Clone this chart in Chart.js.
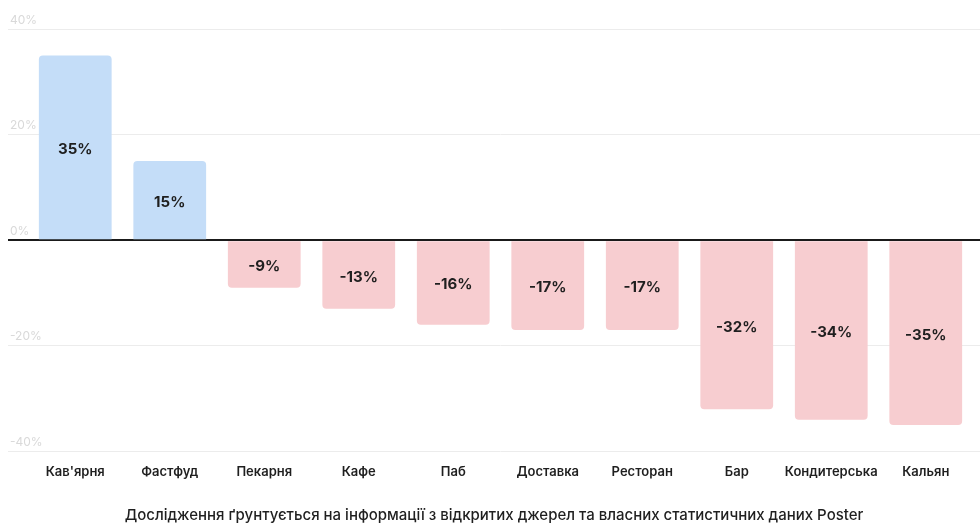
<!DOCTYPE html>
<html>
<head>
<meta charset="utf-8">
<script src="https://cdn.jsdelivr.net/npm/chart.js@4"></script>
<style>
  html, body { margin: 0; padding: 0; background: #fff; }
  #wrap { width: 980px; height: 524px; position: relative; }
</style>
</head>
<body>
<div id="wrap"><canvas id="c" width="980" height="524"></canvas></div>
<script>
const categories = ["Кав'ярня", "Фастфуд", "Пекарня", "Кафе", "Паб", "Доставка", "Ресторан", "Бар", "Кондитерська", "Кальян"];
const values = [35, 15, -9, -13, -16, -17, -17, -32, -34, -35];
const yTicks = [-40, -20, 0, 20, 40];
const footerText = "Дослідження ґрунтується на інформації з відкритих джерел та власних статистичних даних Poster";

const FONT = "Inter, 'Noto Sans', sans-serif";
const POS = '#c4ddf8';
const NEG = '#f7cdd0';

const gridColor = ctx => (ctx.tick && ctx.tick.value === 0) ? '#1a1a1a' : '#ececec';
const gridWidth = ctx => (ctx.tick && ctx.tick.value === 0) ? 2 : 1;

const valueLabels = {
  id: 'valueLabels',
  afterDatasetsDraw(chart) {
    const ctx = chart.ctx;
    const meta = chart.getDatasetMeta(0);
    ctx.save();
    ctx.font = "700 15px " + FONT;
    ctx.fillStyle = '#1f1f1f';
    ctx.textAlign = 'center';
    ctx.textBaseline = 'middle';
    meta.data.forEach((bar, i) => {
      const v = chart.data.datasets[0].data[i];
      const yc = (bar.y + bar.base) / 2;
      ctx.fillText(v + '%', bar.x, yc + 2);
    });
    ctx.restore();
  }
};

new Chart(document.getElementById('c'), {
  type: 'bar',
  data: {
    labels: categories,
    datasets: [{
      data: values,
      backgroundColor: values.map(v => v >= 0 ? POS : NEG),
      borderRadius: 4,
      borderSkipped: 'start',
      barPercentage: 0.77,
      categoryPercentage: 1.0
    }]
  },
  options: {
    responsive: false,
    animation: false,
    devicePixelRatio: 1,
    layout: { padding: { left: 8, right: 0, top: 29, bottom: 0 } },
    plugins: {
      legend: { display: false },
      tooltip: { enabled: false },
      title: {
        display: true,
        position: 'bottom',
        text: footerText,
        color: '#1f1f1f',
        font: { family: FONT, size: 15, weight: '500' },
        padding: { top: 21, bottom: 0 }
      }
    },
    scales: {
      x: {
        grid: { display: false },
        border: { display: false },
        ticks: {
          color: '#1f1f1f',
          font: { family: FONT, size: 13, weight: '600' },
          padding: 5,
          maxRotation: 0,
          autoSkip: false
        }
      },
      y: {
        position: 'left',
        min: -40,
        max: 40,
        afterBuildTicks: s => { s.ticks = yTicks.map(v => ({ value: v })); },
        afterFit: s => { s.width = 20; },
        border: { display: false },
        grid: { color: gridColor, lineWidth: gridWidth, tickLength: 20, drawTicks: true },
        ticks: {
          mirror: true,
          padding: -18,
          labelOffset: -9,
          color: '#d9d9d9',
          font: { family: FONT, size: 12 },
          callback: v => v + '%'
        }
      },
      y2: {
        position: 'right',
        min: -40,
        max: 40,
        afterBuildTicks: s => { s.ticks = yTicks.map(v => ({ value: v })); },
        afterFit: s => { s.width = 7; },
        border: { display: false },
        grid: { color: gridColor, lineWidth: gridWidth, tickLength: 7, drawTicks: true, drawOnChartArea: false },
        ticks: { display: false }
      }
    }
  },
  plugins: [valueLabels]
});
</script>
</body>
</html>
